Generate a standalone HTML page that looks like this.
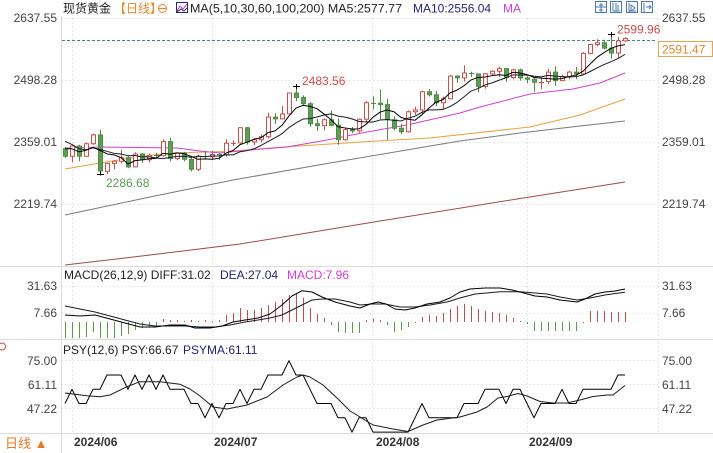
<!DOCTYPE html>
<html><head><meta charset="utf-8">
<style>
html,body{margin:0;padding:0;background:#fff;}
body{width:713px;height:453px;overflow:hidden;position:relative;font-family:"Liberation Sans","Noto Sans CJK SC",sans-serif;}
svg{position:absolute;left:0;top:0;}
</style></head><body>
<svg width="713" height="453" viewBox="0 0 713 453" xmlns="http://www.w3.org/2000/svg" font-family="Liberation Sans, Noto Sans CJK SC, sans-serif">
<rect x="0" y="0" width="713" height="453" fill="#fff"/>
<g stroke="#e6e6e6" stroke-width="1" stroke-dasharray="2,2" fill="none">
<line x1="61" y1="18.5" x2="658" y2="18.5"/>
<line x1="61" y1="80.5" x2="658" y2="80.5"/>
<line x1="61" y1="142.5" x2="658" y2="142.5"/>
<line x1="61" y1="204.5" x2="658" y2="204.5"/>
<line x1="61" y1="286.5" x2="658" y2="286.5"/>
<line x1="61" y1="313.5" x2="658" y2="313.5"/>
<line x1="61" y1="360.5" x2="658" y2="360.5"/>
<line x1="61" y1="384.5" x2="658" y2="384.5"/>
<line x1="61" y1="408.5" x2="658" y2="408.5"/>
<line x1="72.5" y1="18" x2="72.5" y2="433"/>
<line x1="212.5" y1="18" x2="212.5" y2="433"/>
<line x1="372.5" y1="18" x2="372.5" y2="433"/>
<line x1="527.5" y1="18" x2="527.5" y2="433"/>
<line x1="658.5" y1="18" x2="658.5" y2="433"/>
</g>
<g stroke="#dcdcdc" stroke-width="1">
<line x1="0" y1="266.5" x2="713" y2="266.5"/>
<line x1="0" y1="339.5" x2="713" y2="339.5"/>
<line x1="0" y1="433.5" x2="713" y2="433.5"/>
<line x1="61.5" y1="16" x2="61.5" y2="453"/>
</g>
<line x1="62" y1="40.5" x2="657" y2="40.5" stroke="#3f7f8f" stroke-width="1" stroke-dasharray="3,2"/>

<!-- long MAs -->
<g fill="none" stroke-width="1" stroke-linejoin="round">
<polyline stroke="#a04848" points="65,265 150,255 240,244 380,221 517,199 625,182"/>
<polyline stroke="#7a7a7a" points="65,215 150,197 233,180 330,163 430,146 460,141 520,133 580,126 625,121"/>
<polyline stroke="#eaa040" points="65,169 100,163 137,157 170,153 227,151.5 283,147 377,141 430,138 530,127 580,115 625,99"/>
<polyline stroke="#d040d0" points="65,148 100,147 177,148 200,151 220,153 250,150 287,147 327,140 367,132 407,125 460,113 480,107 530,94 573,89 600,83 625,73"/>
</g>

<!-- candles -->
<path fill="none" stroke="#c8504c" stroke-width="1" d="M72.5 144.2V162M86.5 142.5V156.7M93.5 133.6V144.7M107.5 162.5V174.1M114.5 160.3V169.2M121.5 149.6V163.4M135.5 152.3V167.4M149.5 153.6V162.5M163.5 139.3V156.7M177.5 152.7V160.3M198.5 154.5V171M212.5 150.9V160.3M226.5 139.3V156.7M240.5 127.3V144.7M254.5 138V145.1M261.5 134.4V142.5M268.5 112.6V138.5M282.5 106V119.3M289.5 92.6V114.4M324.5 118.4V130.4M345.5 128.2V140.7M359.5 118.4V132.7M366.5 101.1V121.5M408.5 110.4V132.7M415.5 106.8V114.9M422.5 90.8V114.4M443.5 96.6V110M450.5 74.8V99.3M464.5 65.4V81.5M485.5 73V88.6M492.5 70.3V75.2M499.5 66.8V77M513.5 68.6V79.2M548.5 69V84.1M562.5 74.8V81M569.5 70.8V79.2M583.5 52.1V74.8M590.5 43.6V54.3M597.5 39.2V46.3M618.5 37V58.3M625.5 37.4V41.8M233.5 140.2V146M231 143.5H236M541.5 77.9V89M539 82.5H544"/>
<path fill="#fff" stroke="#c8504c" stroke-width="1" d="M70.5 146h4v10.2h-4zM84.5 143.8h4v12.5h-4zM91.5 134.9h4v8.9h-4zM105.5 163.4h4v8h-4zM112.5 161.2h4v2.2h-4zM119.5 157.6h4v3.6h-4zM133.5 154h4v12.9h-4zM147.5 155.4h4v4.4h-4zM161.5 141.6h4v14.2h-4zM175.5 153.1h4v5.4h-4zM196.5 156.3h4v12.9h-4zM210.5 154.5h4v2.2h-4zM224.5 143.3h4v11.6h-4zM238.5 127.8h4v15.1h-4zM252.5 139.8h4v2.2h-4zM259.5 136.7h4v3.1h-4zM266.5 117.1h4v19.6h-4zM280.5 114h4v4.9h-4zM287.5 93h4v20.9h-4zM322.5 119.8h4v5.8h-4zM343.5 129.6h4v10.2h-4zM357.5 119.3h4v11.6h-4zM364.5 102.8h4v16.5h-4zM406.5 111.7h4v20h-4zM413.5 110h4v1.8h-4zM420.5 91.7h4v18.3h-4zM441.5 98.8h4v4h-4zM448.5 76.1h4v22.7h-4zM462.5 73h4v4.9h-4zM483.5 73.9h4v12.5h-4zM490.5 71.2h4v2.7h-4zM497.5 68.6h4v2.7h-4zM511.5 69.9h4v7.6h-4zM546.5 72.1h4v9.4h-4zM560.5 76.6h4v4h-4zM567.5 72.1h4v4.5h-4zM581.5 53.4h4v20.5h-4zM588.5 44.5h4v8.9h-4zM595.5 42.7h4v1.8h-4zM616.5 41h4v12h-4zM623.5 38.5h4v2.4h-4z"/>
<path fill="none" stroke="#4f8a47" stroke-width="1" d="M65.5 146.9V158M79.5 144.7V161.2M100.5 129.6V174.2M128.5 156.3V168.3M142.5 153.1V162.9M170.5 137.6V161.2M184.5 151.8V161.2M191.5 157.2V171.4M247.5 126.9V144.7M275.5 113.1V123.8M296.5 86.6V101.1M303.5 95.3V105.5M310.5 102V126.9M317.5 118.9V130.9M331.5 110.4V126.4M338.5 118.4V144.7M352.5 126.9V133.1M380.5 89.5V119.3M387.5 98.8V139.8M394.5 116.2V130.4M401.5 123.8V134M429.5 89V96.6M436.5 90.8V106M457.5 75.2V82.8M478.5 73.5V92.2M506.5 67.7V81.9M520.5 68.6V80.6M527.5 76.1V83.3M534.5 77.9V91.7M555.5 66.3V85.9M576.5 66.8V79.2M604.5 39.6V49.4M611.5 34.7V58.8M156.5 152.7V158M154 155.5H159M205.5 150.9V159.8M203 156.5H208M219.5 152.7V159.8M217 154.5H222M373.5 96.2V109.5M371 103.5H376M471.5 71.7V77M469 73.5H474"/>
<path fill="#5f9e55" stroke="#4f8a47" stroke-width="1" d="M63.5 148.7h4v7.6h-4zM77.5 146h4v10.2h-4zM98.5 134.9h4v36.1h-4zM126.5 157.6h4v9.3h-4zM140.5 154h4v5.8h-4zM168.5 141.6h4v16.9h-4zM182.5 153.1h4v6.2h-4zM189.5 159.4h4v9.8h-4zM245.5 127.8h4v14.2h-4zM273.5 117.1h4v1.8h-4zM294.5 93h4v4.5h-4zM301.5 97.5h4v6.2h-4zM308.5 103.7h4v20h-4zM315.5 123.8h4v1.8h-4zM329.5 119.8h4v5.4h-4zM336.5 125.1h4v14.7h-4zM350.5 129.6h4v1.3h-4zM378.5 103.3h4v1.3h-4zM385.5 104.6h4v15.1h-4zM392.5 119.8h4v8.5h-4zM399.5 128.2h4v3.6h-4zM427.5 91.7h4v3.1h-4zM434.5 94.8h4v8h-4zM455.5 76.1h4v1.8h-4zM476.5 73.9h4v12.5h-4zM504.5 68.6h4v8.9h-4zM518.5 69.9h4v8h-4zM525.5 77.9h4v1.3h-4zM532.5 79.2h4v3.1h-4zM553.5 72.1h4v8.5h-4zM574.5 72.1h4v1.8h-4zM602.5 42.7h4v5.4h-4zM609.5 48.1h4v4.9h-4z"/>

<!-- MA10 / MA5 -->
<polyline fill="none" stroke="#1a1a2a" stroke-width="1" stroke-linejoin="round" points="65,141.21 72,144.55 79,148.74 86,149.8 93,147.76 100,149.54 107,151.32 114,153.32 121,153.94 128,155.73 135,155.5 142,156.88 149,156.79 156,158 163,158.66 170,157.42 177,156.39 184,156.21 191,157.37 198,156.3 205,156.57 212,156.04 219,155.99 226,154.75 233,154.88 240,151.81 247,150.69 254,148.74 261,145.49 268,141.57 275,137.78 282,133.73 289,127.54 296,122.96 303,119.04 310,118.64 317,116.99 324,114.99 331,113.83 338,116.1 345,117.17 352,118.86 359,121.49 366,122.02 373,121.98 380,120.06 387,119.49 394,120.33 401,121 408,118.19 415,116.24 422,112.32 429,109.87 436,109.87 443,109.43 450,106.57 457,102.39 464,96.87 471,91.08 478,88.54 485,84.94 492,82.89 499,80.26 506,77.73 513,74.83 520,75.01 527,75.14 534,76.08 541,76.84 548,75.41 555,76.08 562,76.61 569,76.97 576,76.61 583,74.97 590,71.63 597,67.98 604,64.55 611,61.7 618,58.58 625,54.38"/>
<polyline fill="none" stroke="#000" stroke-width="1" stroke-linejoin="round" points="65,148.69 72,148.78 79,151.81 86,150.29 93,147.44 100,150.38 107,153.86 114,154.83 121,157.6 128,164.01 135,160.62 142,159.91 149,158.75 156,158.4 163,153.32 170,154.21 177,152.88 184,153.68 191,156.35 198,159.29 205,158.93 212,159.2 219,158.31 226,153.14 233,150.47 240,144.68 247,142.19 254,139.16 261,137.83 268,132.66 275,130.88 282,125.27 289,115.92 296,108.09 303,105.42 310,106.4 317,108.71 324,114.05 331,119.58 338,126.79 345,127.94 352,129.01 359,128.92 366,124.47 373,117.17 380,112.18 387,109.96 394,111.74 401,117.53 408,119.22 415,120.29 422,114.68 429,108 436,102.21 443,99.63 450,92.86 457,90.1 464,85.74 471,79.95 478,77.46 485,77.01 492,75.68 499,74.79 506,75.5 513,72.21 520,73.01 527,74.61 534,77.37 541,78.17 548,78.62 555,79.15 562,78.62 569,76.57 576,75.06 583,71.32 590,64.1 597,57.34 604,52.53 611,48.34 618,45.85 625,44.65"/>

<!-- extreme markers -->
<path fill="none" stroke="#000" stroke-width="1" d="M97 174.5H104M100.5 171.5V175.5M293 86.5H300M296.5 84V89M608 34.5H615M611.5 32V37"/>

<!-- MACD histogram -->
<path fill="none" stroke="#b85050" stroke-width="1" d="M163.5 322V319M170.5 322V320M177.5 322V320M184.5 322V321M191.5 322V320M198.5 322V321M205.5 322V320M212.5 322V321M219.5 322V320M226.5 322V315M233.5 322V313M240.5 322V308M247.5 322V310M254.5 322V310M261.5 322V308M268.5 322V305M275.5 322V302M282.5 322V299M289.5 322V295M296.5 322V294M303.5 322V298M310.5 322V308M317.5 322V314M324.5 322V318M366.5 322V320M373.5 322V319M380.5 322V320M422.5 322V317M429.5 322V315M436.5 322V316M443.5 322V313M450.5 322V309M457.5 322V306M464.5 322V304M471.5 322V306M478.5 322V309M485.5 322V311M492.5 322V312M499.5 322V313M506.5 322V315M513.5 322V318M520.5 322V321M590.5 322V311M597.5 322V311M604.5 322V311M611.5 322V312M618.5 322V312M625.5 322V312"/>
<path fill="none" stroke="#5a9a50" stroke-width="1" d="M65.5 322V338M72.5 322V338M79.5 322V338M86.5 322V337M93.5 322V332M100.5 322V338M107.5 322V338M114.5 322V338M121.5 322V336M128.5 322V334M135.5 322V330M142.5 322V328M149.5 322V327M156.5 322V326M331.5 322V325M338.5 322V332M345.5 322V333M352.5 322V333M359.5 322V333M387.5 322V325M394.5 322V332M401.5 322V330M408.5 322V327M415.5 322V323M527.5 322V324M534.5 322V331M541.5 322V331M548.5 322V331M555.5 322V331M562.5 322V331M569.5 322V331M576.5 322V331M583.5 322V323"/>
<polyline fill="none" stroke="#1a1a2a" stroke-width="1" stroke-linejoin="round" points="65,306 80,309 95,312 110,316 125,320 140,324 155,326 170,326 185,326 200,327 215,327 230,325 245,322 258,320 270,318 282,315 292,310 302,305 312,300 322,299 335,299 350,302 360,305 372,304 385,304 400,307 415,307 430,305 447,302 460,298 475,294 500,291.7 520,291.7 535,293 547,294 560,297 577,300 590,298 605,295 615,293.5 625,292.3"/>
<polyline fill="none" stroke="#000" stroke-width="1" stroke-linejoin="round" points="65,315 80,316 95,315 110,319 125,323 140,327 155,327 170,325 185,325 195,328 210,328 222,326 233,322 245,320 258,318 270,314 282,305 292,296 302,290.7 312,292 322,297 335,302 350,306 360,308 370,304 378,302 386,304 395,309 405,310 415,308 427,304 440,302 450,298 460,292 470,289 485,288 500,288 512,290 520,292 535,296 547,297 560,300 577,302 585,299 595,294 605,292 615,291 625,289"/>

<!-- PSY -->
<polyline fill="none" stroke="#000" stroke-width="1" stroke-linejoin="round" points="65,403.5 72,389.3 79,403.5 86,403.5 93,389.3 100,389.3 107,375 114,375 121,375 128,389.3 135,375 142,389.3 149,375 156,389.3 163,375 170,389.3 177,389.3 184,389.3 191,403.5 198,403.5 205,417.8 212,403.5 219,417.8 226,403.5 233,403.5 240,389.3 247,403.5 254,389.3 261,389.3 268,375 275,375 282,375 289,360.7 296,375 303,375 310,389.3 317,403.5 324,403.5 331,403.5 338,417.8 345,417.8 352,432.1 359,417.8 366,417.8 373,432.1 380,432.1 387,432.1 394,432.1 401,432.1 408,432.1 415,417.8 422,403.5 429,417.8 436,417.8 443,417.8 450,417.8 457,417.8 464,403.5 471,403.5 478,403.5 485,389.3 492,389.3 499,389.3 506,403.5 513,389.3 520,389.3 527,403.5 534,417.8 541,403.5 548,403.5 555,403.5 562,389.3 569,403.5 576,403.5 583,389.3 590,389.3 597,389.3 604,389.3 611,389.3 618,375 625,375"/>
<polyline fill="none" stroke="#1a1a2a" stroke-width="1" stroke-linejoin="round" points="65,393 87,395.7 100,396.7 110,395 127,386.7 140,381.7 160,381.7 180,384.3 190,389 200,396 213,407 227,409 247,405 267,397 283,385 297,377 303,375 310,377 323,385 337,398 350,411 360,417 373,425 393,429 408,431.5 423,425 437,420 460,417 477,412 487,407 498,398 507,396.5 518,393.5 527,396 540,401.5 553,403 567,403 580,400 593,396.5 607,395 613,395 625,385.5"/>

<!-- left axis labels -->
<g font-size="12" fill="#444" text-anchor="end">
<text x="57" y="22">2637.55</text>
<text x="57" y="84">2498.28</text>
<text x="57" y="146">2359.01</text>
<text x="57" y="208">2219.74</text>
<text x="57" y="290">31.63</text>
<text x="57" y="317">7.66</text>
<text x="57" y="365">75.00</text>
<text x="57" y="389">61.11</text>
<text x="57" y="413">47.22</text>
</g>
<!-- right axis labels -->
<g font-size="12" fill="#444">
<text x="662" y="22">2637.55</text>
<text x="662" y="84">2498.28</text>
<text x="662" y="146">2359.01</text>
<text x="662" y="208">2219.74</text>
<text x="662" y="290">31.63</text>
<text x="662" y="317">7.66</text>
<text x="662" y="365">75.00</text>
<text x="662" y="389">61.11</text>
<text x="662" y="413">47.22</text>
</g>
<rect x="658.5" y="41.5" width="54" height="15" fill="#fff" stroke="#e8a454" stroke-width="1"/>
<text x="662" y="53.5" font-size="12" fill="#e0882c">2591.47</text>

<!-- top legend -->
<text x="63" y="12.5" font-size="12" fill="#222">现货黄金</text>
<text x="114" y="12.5" font-size="12" fill="#e8882a">【日线】</text>
<circle cx="162.5" cy="8.5" r="4" fill="none" stroke="#e8882a" stroke-width="1"/>
<line x1="159" y1="8.5" x2="166" y2="8.5" stroke="#e8882a" stroke-width="1"/>
<rect x="176.5" y="2.5" width="11" height="10" fill="#fff" stroke="#2a2a6a" stroke-width="1"/>
<polyline points="177,11 180,6 183,9 187,4" fill="none" stroke="#c040c0" stroke-width="1"/>
<polyline points="177,12 181,9 184,11 187,8" fill="none" stroke="#2a2a6a" stroke-width="1"/>
<text x="190" y="12.5" font-size="12" fill="#222" textLength="212" lengthAdjust="spacingAndGlyphs">MA(5,10,30,60,100,200) MA5:2577.77</text>
<text x="413" y="12.5" font-size="12" fill="#24246e">MA10:2556.04</text>
<text x="503" y="12.5" font-size="12" fill="#d040d0">MA</text>

<!-- top right icons -->
<g fill="none" stroke="#4a78b0" stroke-width="1">
<rect x="595.5" y="1.5" width="11" height="11"/>
<rect x="610.5" y="1.5" width="11" height="11"/>
<rect x="626.5" y="1.5" width="11" height="11"/>
<rect x="641.5" y="1.5" width="11" height="11"/>
<path d="M601 3v9M596 7h10M599 5h4M599 10h4"/>
<path d="M613 3v8M616 3v8M613 11h7M618 5v5"/>
<path d="M629 3v9M629 11h7M631 5l4 3-4 3z"/>
<path d="M644 3v9M646 7h5M649 5l2 2-2 2"/>
</g>

<!-- annotations -->
<text x="617" y="33.5" font-size="12" fill="#d04a4a">2599.96</text>
<text x="302" y="85" font-size="12" fill="#d04a4a">2483.56</text>
<text x="106" y="187" font-size="12" fill="#5a9a5a">2286.68</text>

<!-- MACD legend -->
<text x="64" y="279" font-size="12" fill="#222">MACD(26,12,9) DIFF:31.02</text>
<text x="220" y="279" font-size="12" fill="#24246e">DEA:27.04</text>
<text x="287" y="279" font-size="12" fill="#d040d0">MACD:7.96</text>

<!-- PSY legend -->
<circle cx="2" cy="346.5" r="3.5" fill="none" stroke="#c84a4a" stroke-width="1"/>
<text x="63" y="354" font-size="12" fill="#222">PSY(12,6) PSY:66.67</text>
<text x="183" y="354" font-size="12" fill="#24246e">PSYMA:61.11</text>

<!-- dates -->
<g font-size="12" font-weight="bold" fill="#333">
<text x="74" y="446">2024/06</text>
<text x="214" y="446">2024/07</text>
<text x="376" y="446">2024/08</text>
<text x="529" y="446">2024/09</text>
</g>
<text x="5" y="448" font-size="13" fill="#e8782a">日线 ▲</text>
</svg>
</body></html>
